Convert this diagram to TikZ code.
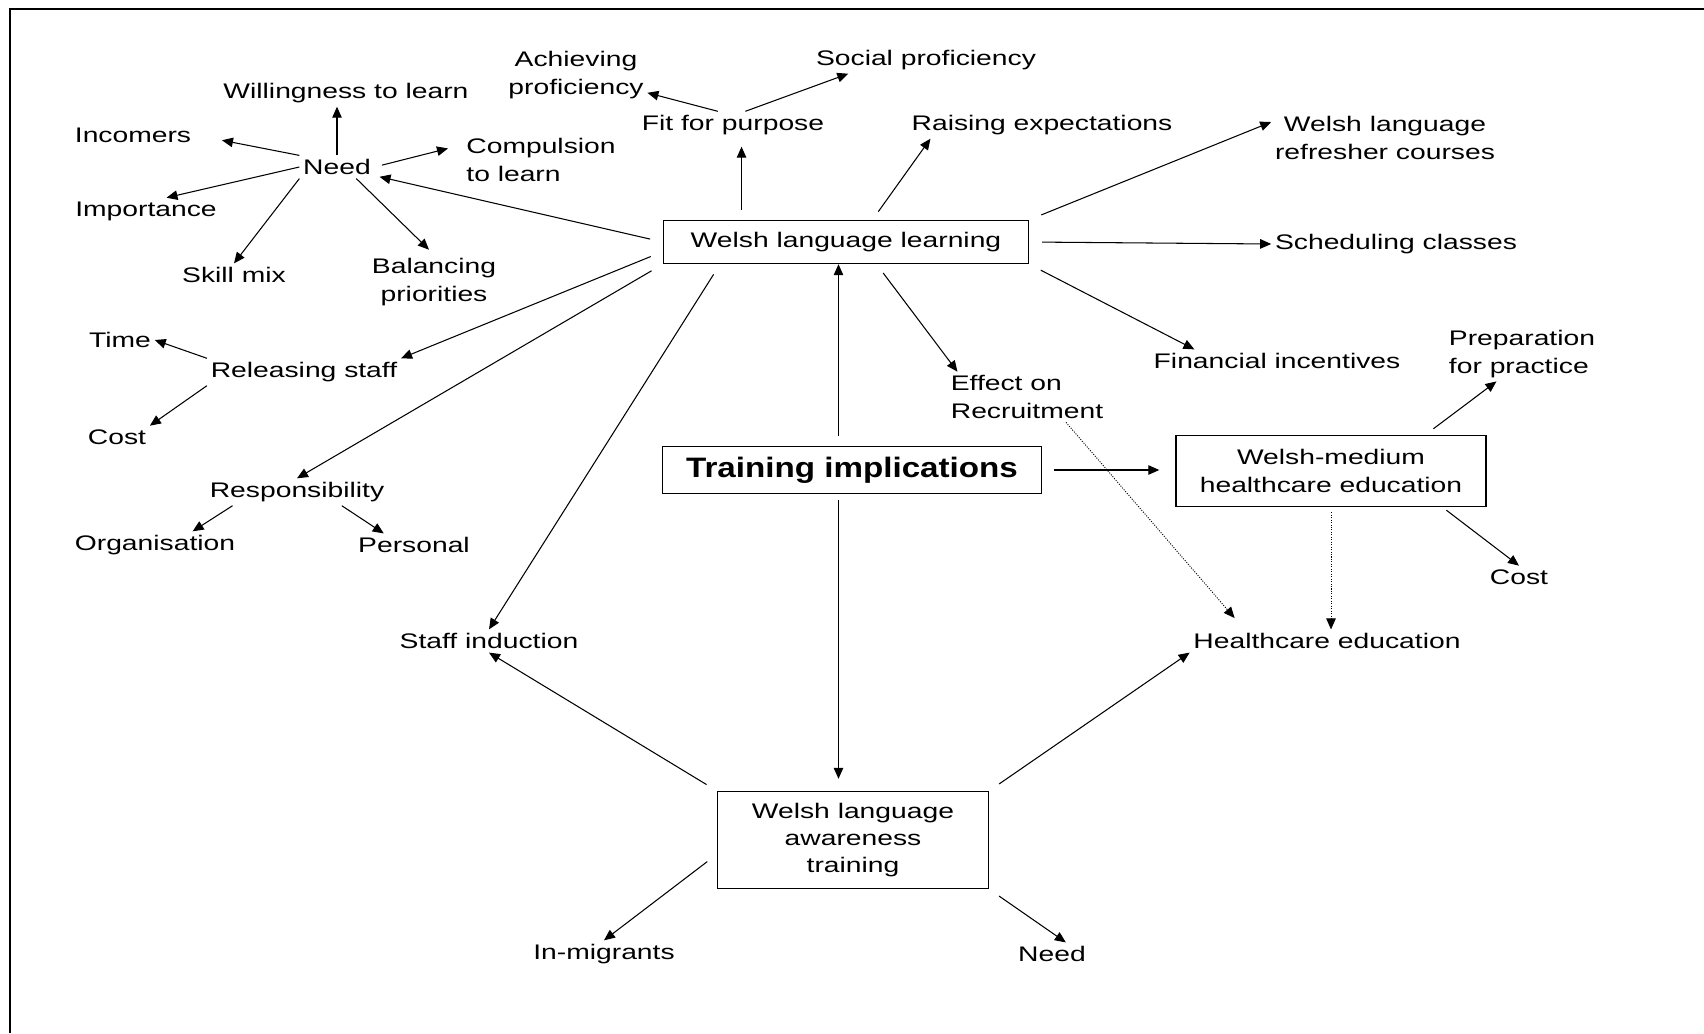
\documentclass[tikz,border=0pt]{standalone}
\usepackage{fontspec}
\setmainfont{Liberation Sans}[FakeStretch=1.34]
\newfontfamily\titlefont{Liberation Sans}[FakeStretch=1.18]
\usetikzlibrary{arrows.meta}

\begin{document}
\begin{tikzpicture}[x=0.2mm, y=-0.2mm,
  lbl/.style={inner sep=2pt, font=\fontsize{12}{15.6}\selectfont},
  boxed/.style={lbl, draw, line width=0.8pt, align=center},
  arr/.style={-{Triangle[length=2.2mm,width=1.9mm]}, line width=0.6pt},
  dots/.style={arr, dash pattern=on 0.6pt off 0.8pt, line width=0.5pt}]
\useasboundingbox (0,0) rectangle (1704,1033);
\draw[line width=1.3pt] (10,1033) -- (10,9) -- (1704,9);

% boxes
\node[boxed, minimum width=73mm, minimum height=8.6mm] (wll) at (846,242) {Welsh language learning};
\node[boxed, line width=1pt, minimum width=75.8mm, minimum height=9.4mm,
      font=\titlefont\bfseries\fontsize{16}{19}\selectfont] (train) at (852,470) {Training implications};
\node[boxed, minimum width=62mm, minimum height=14.2mm] (wmhe) at (1331,471) {Welsh-medium\\healthcare education};
\node[boxed, minimum width=54.2mm, minimum height=19.4mm] (aware) at (853,840) {Welsh language\\awareness\\training};

% labels
\node[lbl, align=center] (achieve) at (576,75) {Achieving\\proficiency};
\node[lbl] (social) at (926,60) {Social proficiency};
\node[lbl] (fit) at (733,125) {Fit for purpose};
\node[lbl] (raise) at (1042,125) {Raising expectations};
\node[lbl, align=center] (refresh) at (1385,138) {Welsh language\\refresher courses};
\node[lbl] (willing) at (346,93) {Willingness to learn};
\node[lbl] (incomers) at (133,135) {Incomers};
\node[lbl] (need) at (337,167) {Need};
\node[lbl, align=left] (compul) at (541,160) {Compulsion\\to learn};
\node[lbl] (import) at (146,211) {Importance};
\node[lbl] (skill) at (234,275) {Skill mix};
\node[lbl, align=center] (balance) at (434,282) {Balancing\\priorities};
\node[lbl] (sched) at (1396,244) {Scheduling classes};
\node[lbl] (time) at (120,340) {Time};
\node[lbl] (release) at (304,372) {Releasing staff};
\node[lbl] (costa) at (117,437) {Cost};
\node[lbl] (resp) at (297,492) {Responsibility};
\node[lbl] (organ) at (155,545) {Organisation};
\node[lbl] (person) at (414,545) {Personal};
\node[lbl] (finance) at (1277,361) {Financial incentives};
\node[lbl, align=left] (effect) at (1027,397) {Effect on\\Recruitment};
\node[lbl, align=left] (prep) at (1522,354) {Preparation\\for practice};
\node[lbl] (costb) at (1519,577) {Cost};
\node[lbl] (health) at (1327,641) {Healthcare education};
\node[lbl] (induct) at (489,641) {Staff induction};
\node[lbl] (migrant) at (604,954) {In-migrants};
\node[lbl] (needb) at (1052,954) {Need};

% Welsh language learning
\draw[arr, shorten <=2.6mm, shorten >=1mm] (wll.west) -- (need);
\draw[arr, shorten <=2.6mm] (wll.183) -- (release.north east);
\draw[arr, shorten <=2.6mm] (wll.south west) -- (resp.north);
\draw[arr, shorten <=2.4mm] (wll.190) -- (induct.north);
\draw[arr, shorten <=2mm, shorten >=1.6mm] (wll.168) -- (wll.168 |- fit.south);
\draw[arr, shorten <=2mm] (wll.40) -- (raise.187);
\draw[arr, shorten <=2.6mm] (wll.north east) -- (refresh.172);
\draw[arr, shorten <=2.6mm] (wll.east) -- (sched.west);
\draw[arr, shorten <=2.6mm] (wll.south east) -- (finance.172);
\draw[arr, shorten <=2.2mm] (wll.-36) -- (effect.160);
\draw[arr] (fit.138) -- (achieve.-14);
\draw[arr] (fit.48) -- (social.190);

% need
\draw[arr] (need.north) -- (need.north |- willing.south);
\draw[arr, shorten >=5.5mm] (need.north west) -- (incomers.east);
\draw[arr, shorten <=1.5mm, shorten >=3mm] (need.east) -- (compul.169);
\draw[arr] (need.west) -- (import.33);
\draw[arr] (need.south west) -- (skill.north);
\draw[arr, shorten >=1.4mm] (need.-31) -- (balance.north);

\draw[arr] (release.north west) -- (time.east);
\draw[arr] (release.south west) -- (costa.north east);
\draw[arr] (resp.192) -- (organ.20);
\draw[arr] (resp.-17) -- (person.159);

% training implications
\draw[arr, shorten <=2mm] (train.119) -- (train.119 |- wll.south);
\draw[arr, shorten <=1.2mm, shorten >=2.4mm] (train.-119) -- (train.-119 |- aware.north);
\draw[arr, shorten <=2.4mm, shorten >=3.2mm] (train.east) -- (train.east -| wmhe.west);

\draw[arr, shorten <=2mm] (wmhe.21) -- (prep.227);
\draw[arr, shorten <=1mm] (wmhe.-18) -- (costb.north);
\draw[dots, shorten <=1mm] (wmhe.south) -- (wmhe.south |- health.north);
\draw[dots, shorten >=3mm] (effect.-33) -- (health.172);

% awareness training
\draw[arr, shorten <=2.4mm] (aware.north west) -- (induct.south);
\draw[arr, shorten <=2.4mm] (aware.north east) -- (health.south west);
\draw[arr, shorten <=2.4mm] (aware.186) -- (migrant.north);
\draw[arr, shorten <=2.4mm] (aware.south east) -- (needb.40);
\end{tikzpicture}
\end{document}
